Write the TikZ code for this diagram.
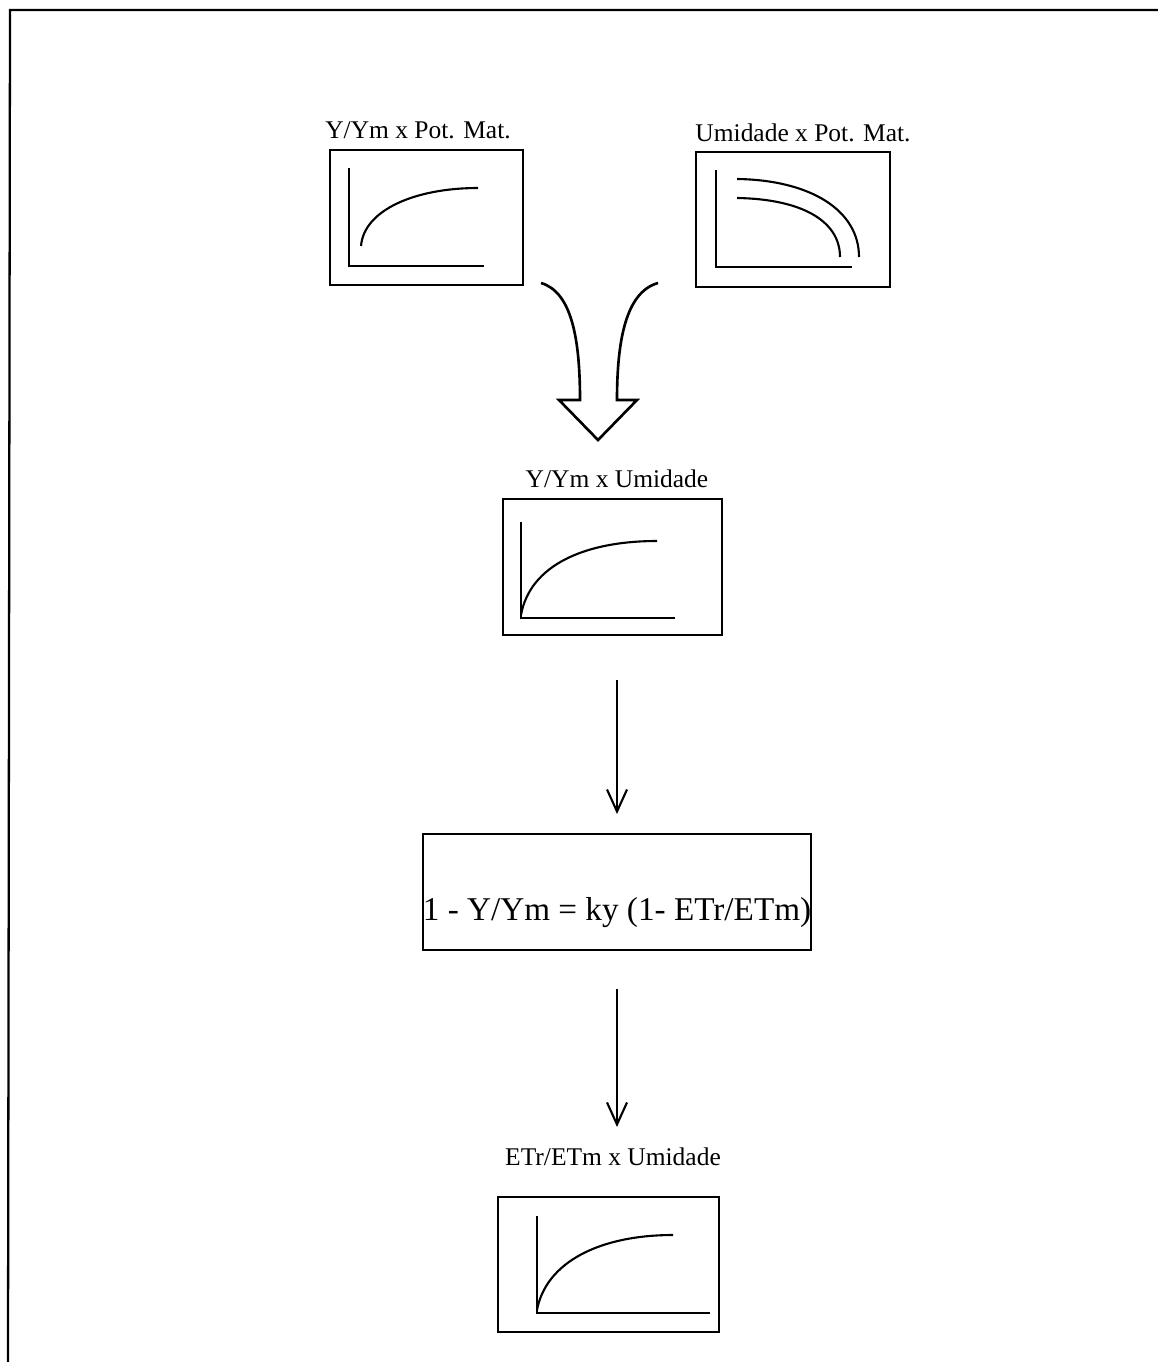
\documentclass[tikz,border=0pt]{standalone}
\usepackage{fontspec}
\setmainfont{Liberation Serif}
\usetikzlibrary{arrows.meta}
\begin{document}
\begin{tikzpicture}[x=0.02cm,y=-0.02cm,
  box/.style={draw, line width=1.1pt, inner sep=0pt},
  axis/.style={line width=1pt},
  crv/.style={line width=1.2pt},
  title/.style={font=\fontsize{14.5}{16}\selectfont, inner sep=0pt, anchor=base},
  arr/.style={line width=1pt, -{Straight Barb[length=4.4mm,width=4mm,line width=1.2pt]}},
  fat/.style={line width=1.5pt, line join=miter}]
\useasboundingbox (0,0) rectangle (1158,1362);
% outer frame (open at right and bottom)
\draw[line width=1.3pt] (8,1362) -- (10,10) -- (1158,10);

% top-left box
\node[title] (t1) at (418,138) {Y/Ym x Pot. Mat.};
\node[box, minimum width=3.86cm, minimum height=2.7cm] (b1) at (426.5,217.5) {};
\draw[axis] (349,168) -- (349,266) -- (484,266);
\draw[crv] (361,246) .. controls (364,210) and (415,188) .. (478,188);

% top-right box
\node[title] (t2) at (803,141) {Umidade x Pot. Mat.};
\node[box, minimum width=3.88cm, minimum height=2.7cm] (b2) at (793,219.5) {};
\draw[axis] (716,170) -- (716,267) -- (852,267);
\draw[crv] (737,179) .. controls (810,180) and (859,210) .. (859,257);
\draw[crv] (737,198) .. controls (800,199) and (840,220) .. (840,257);

% big merging arrow
\coordinate (fl) at (541,283);
\coordinate (fr) at (658,283);
\coordinate (ftip) at (598,440);
\draw[fat] (fl) .. controls (572,292) and (580,340) .. (580,400) -- (559,400)
  -- (ftip) -- (637,400) -- (617,400) .. controls (617,340) and (626,292) .. (fr);

% middle box
\node[title] (t3) at (617,487) {Y/Ym x Umidade};
\node[box, minimum width=4.38cm, minimum height=2.72cm] (b3) at (612.5,567) {};
\draw[axis] (521,522) -- (521,618) -- (675,618);
\draw[crv] (521,615) .. controls (530,565) and (585,541) .. (657,541);

% formula box
\node[box, minimum width=7.76cm, minimum height=2.32cm] (m) at (617,892) {};
\node[inner sep=0pt, anchor=base, font=\fontsize{18.9}{22}\selectfont] (mt) at (617,920) {1 - Y/Ym = ky (1- ETr/ETm)};

% bottom box
\node[title] (t4) at (613,1165) {ETr/ETm x Umidade};
\node[box, minimum width=4.42cm, minimum height=2.7cm] (b4) at (608.5,1264.5) {};
\draw[axis] (537,1216) -- (537,1313) -- (710,1313);
\draw[crv] (537,1310) .. controls (546,1262) and (600,1235) .. (673,1235);

% connectors
\draw[arr, shorten <=0.88cm, shorten >=0.38cm] (b3.south -| m.north) -- (m.north);
\draw[arr, shorten <=0.76cm, shorten >=0.4cm] (m.south) -- (m.south |- t4.north);
\end{tikzpicture}
\end{document}
